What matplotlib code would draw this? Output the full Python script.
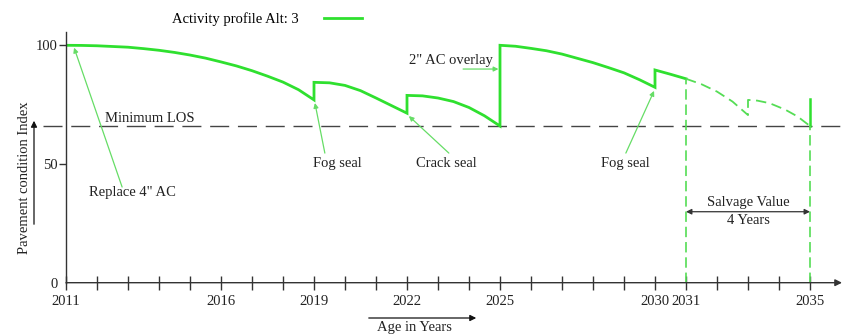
import matplotlib
matplotlib.use('Agg')
import matplotlib.pyplot as plt

plt.rcParams['font.family'] = ['Liberation Serif', 'DejaVu Serif']
plt.rcParams['lines.scale_dashes'] = False

# solid profile (jumps are repeated years)
years_solid = [2011, 2011.5, 2012, 2012.5, 2013, 2013.5, 2014, 2014.5, 2015,
               2015.5, 2016, 2016.5, 2017, 2017.5, 2018, 2018.5, 2019,
               2019, 2019.5, 2020, 2020.5, 2021, 2021.5, 2022,
               2022, 2022.5, 2023, 2023.5, 2024, 2024.5, 2025,
               2025, 2025.5, 2026, 2026.5, 2027, 2027.5, 2028, 2028.5,
               2029, 2029.5, 2030,
               2030, 2030.5, 2031]
pci_solid = [100, 99.95, 99.8, 99.5, 99.2, 98.6, 97.9, 97.0, 95.9,
             94.6, 93.0, 91.3, 89.3, 87.0, 84.5, 81.3, 77.0,
             84.4, 84.2, 83.1, 80.9, 77.8, 74.6, 71.4,
             78.9, 78.7, 77.8, 76.3, 73.8, 70.3, 66.0,
             100, 99.6, 98.7, 97.7, 96.3, 94.5, 92.7, 90.6,
             88.4, 85.5, 82.3,
             89.6, 87.8, 85.9]

# projected part (dashed)
years_proj = [2031, 2031.5, 2032, 2032.5, 2033,
              2033, 2033.3, 2033.7, 2034.2, 2034.6, 2035]
pci_proj = [85.9, 83.6, 80.5, 76.3, 70.6,
            77.0, 76.7, 75.6, 72.9, 70.0, 66.0]

end_year = 2035
end_pci = [66.0, 77.3]
analysis_year = 2031
min_los = 66

tick_years = list(range(2011, 2036))
labeled_years = [2011, 2016, 2019, 2022, 2025, 2030, 2031, 2035]

green = '#2fe02f'
lgreen = '#55dd55'
dark = '#333333'
fs = 10.5

fig = plt.figure(figsize=(8.48, 3.35), dpi=100)
W, H = 848, 335
ax = fig.add_axes([66 / W, (H - 282.7) / H, (842 - 66) / W, (282.7 - 32) / H])
ax.set_xlim(2011, 2011 + 776 / 31)
ax.set_ylim(0, 250.7 / 2.374)

for s in ['top', 'right', 'bottom']:
    ax.spines[s].set_visible(False)
ax.spines['left'].set_color(dark)
ax.spines['left'].set_linewidth(1.0)

ax.set_xticks(tick_years)
ax.set_xticklabels([str(y) if y in labeled_years else '' for y in tick_years])
ax.tick_params(axis='x', direction='inout', length=9.5, width=1.0, color=dark,
               labelsize=fs, labelcolor='#222222', pad=4)
ax.set_yticks([0, 50, 100])
ax.set_yticklabels(['0', '50', '100'])
ax.tick_params(axis='y', direction='out', length=5, width=1.0, color=dark,
               labelsize=fs, labelcolor='#222222', pad=1)
ax.yaxis.get_major_ticks()[0].tick1line.set_visible(False)

# x axis line with arrow
ax.annotate('', xy=(1.0, 0), xytext=(0, 0), xycoords=('axes fraction', 'data'),
            textcoords=('axes fraction', 'data'),
            arrowprops=dict(arrowstyle='-|>', color=dark, lw=1.0,
                            mutation_scale=10, shrinkA=0, shrinkB=0),
            annotation_clip=False)

# minimum LOS line
ax.plot([2010.26, 2036.25], [min_los, min_los], color='#444444', lw=1.0,
        dashes=(13.7, 6.3), clip_on=False)

ax.plot(years_solid, pci_solid, color=green, lw=2.0, solid_joinstyle='miter',
        label='Activity profile Alt: 3')
ax.plot(years_proj, pci_proj, color=lgreen, lw=1.3, dashes=(7.5, 4.0))
ax.plot([end_year, end_year], end_pci, color=green, lw=1.8)
ax.plot([analysis_year, analysis_year], [0, pci_proj[0]], color=lgreen, lw=1.2,
        dashes=(7.5, 3.5))
ax.plot([end_year, end_year], [0, end_pci[0]], color=lgreen, lw=1.2,
        dashes=(7.5, 3.5))

# annotation arrows
arr = dict(arrowstyle='-|>', color='#66dd66', lw=0.9, mutation_scale=7,
           shrinkA=0, shrinkB=0)
ax.annotate('', xy=(2011.26, 99), xytext=(2012.81, 40.3), arrowprops=arr)
ax.text(2013.13, 37.8, 'Replace 4" AC', fontsize=fs, ha='center', va='center', color='#222222')
ax.annotate('', xy=(2019.03, 75.7), xytext=(2019.35, 54.6), arrowprops=arr)
ax.text(2019.77, 50.4, 'Fog seal', fontsize=fs, ha='center', va='center', color='#222222')
ax.annotate('', xy=(2022.06, 70.2), xytext=(2023.35, 54.6), arrowprops=arr)
ax.text(2023.26, 50.4, 'Crack seal', fontsize=fs, ha='center', va='center', color='#222222')
ax.annotate('', xy=(2029.97, 80.8), xytext=(2029.06, 54.6), arrowprops=arr)
ax.text(2029.03, 50.4, 'Fog seal', fontsize=fs, ha='center', va='center', color='#222222')
ax.annotate('', xy=(2024.95, 90.0), xytext=(2023.81, 90.0), arrowprops=arr)
ax.text(2023.42, 93.4, '2" AC overlay', fontsize=fs, ha='center', va='center', color='#222222')
ax.text(2013.71, 69.3, 'Minimum LOS', fontsize=fs, ha='center', va='center', color='#222222')

# salvage value
ax.annotate('', xy=(2031, 29.9), xytext=(2035, 29.9),
            arrowprops=dict(arrowstyle='<|-|>', color=dark, lw=0.9,
                            mutation_scale=8, shrinkA=0, shrinkB=0))
ax.text(2033.0, 33.6, 'Salvage Value', fontsize=fs, ha='center', va='center', color='#222222')
ax.text(2033.0, 26.0, '4 Years', fontsize=fs, ha='center', va='center', color='#222222')

# axis titles with arrows
fig.text(25 / W, 1 - 178 / H, 'Pavement condition Index', rotation=90,
         fontsize=fs, ha='center', va='center', color='#222222')
fig.add_artist(matplotlib.patches.FancyArrowPatch(
    (34 / W, 1 - 227 / H), (34 / W, 1 - 118 / H), transform=fig.transFigure,
    arrowstyle='-|>', mutation_scale=9, color='#111111', lw=0.9))
fig.text(414 / W, 1 - 327 / H, 'Age in Years', fontsize=fs, ha='center',
         va='center', color='#222222')
fig.add_artist(matplotlib.patches.FancyArrowPatch(
    (366 / W, 1 - 318 / H), (479 / W, 1 - 318 / H), transform=fig.transFigure,
    arrowstyle='-|>', mutation_scale=9, color='#111111', lw=0.9))

ax.legend(loc='center', bbox_to_anchor=(267 / W, 1 - 19 / H),
          bbox_transform=fig.transFigure, frameon=False, markerfirst=False,
          handlelength=2.6, handletextpad=1.7, fontsize=fs)

fig.savefig('out.png', dpi=100, facecolor='white')
